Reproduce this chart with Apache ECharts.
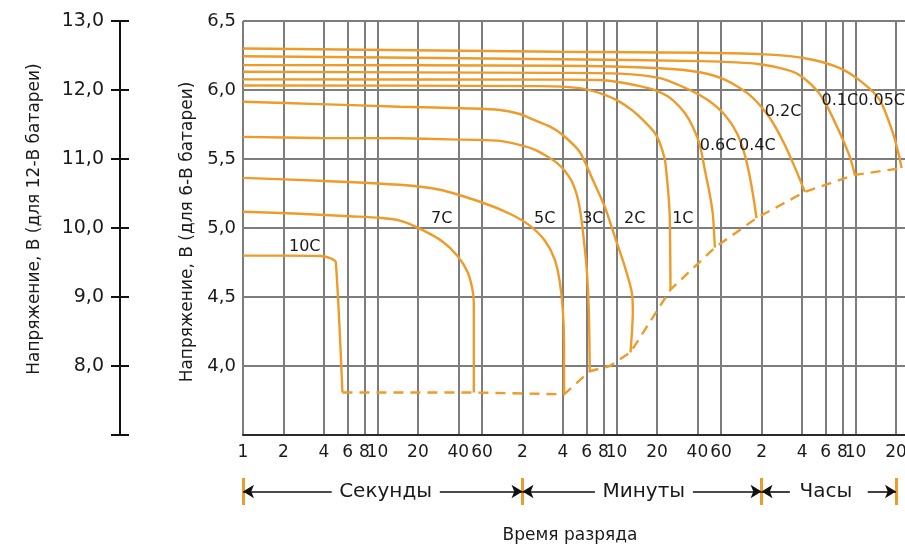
<!DOCTYPE html>
<html><head><meta charset="utf-8">
<script src="https://cdn.jsdelivr.net/npm/echarts@6/dist/echarts.min.js"></script>
<style>html,body{margin:0;padding:0;background:#fff}#chart{width:905px;height:548px}</style>
</head><body><div id="chart"></div>
<script>
// ---- X axis: discharge time in seconds (log scale) ----
const tickValues = [1,2,4,6,8,10,20,40,60,120,240,360,480,600,1200,2400,3600,7200,14400,21600,28800,36000,72000];
const tickLabels = ['1','2','4','6','8','10','20','40','60','2','4','6','8','10','20','40','60','2','4','6','8','10','20'];
const unitBounds = [1, 120, 7200, 72000];
const unitNames = ['Секунды', 'Минуты', 'Часы'];
const unitNamePos = [11.5, 958, 21660];
const arrowInner = [[4.57, 29.1], [415, 2219], [11690, 44360]];

// ---- curves: [time s, voltage V (6-V battery)] ----
const curveNames = ['10C','7C','5C','3C','2C','1C','0.6C','0.4C','0.2C','0.1C','0.05C'];
const c10C = [[1,4.80],[2,4.80],[3.72,4.797],[4.2,4.79],[4.6,4.775],[4.9,4.755],[5.49,3.808]];
const c7C = [[1,5.118],[2.64,5.103],[6.22,5.085],[10.4,5.074],[14.66,5.053],[20.6,4.995],[30.6,4.901],[39.6,4.795],[47.0,4.677],[50.9,4.554],[52.1,4.46],[52.1,3.808]];
const c5C = [[1,5.363],[3.72,5.342],[14.66,5.313],[29.1,5.277],[60.8,5.183],[96.5,5.103],[135.9,5.017],[175.7,4.909],[208.5,4.771],[227,4.612],[239.2,4.41],[244.5,4.157],[244.5,3.795]];
const c3C = [[1,5.66],[3.72,5.652],[14.66,5.65],[34.6,5.642],[81.3,5.631],[143,5.573],[216,5.472],[269.7,5.363],[304,5.241],[325.6,5.096],[342.7,4.916],[360.8,4.699],[373.4,4.41],[380,3.962]];
const c2C = [[1,5.915],[3.72,5.898],[14.66,5.879],[48.6,5.866],[81.3,5.855],[114.5,5.826],[143,5.787],[191,5.736],[239,5.674],[320,5.551],[400,5.349],[491,5.154],[583,4.937],[692,4.72],[780,4.533],[794,4.388],[780,4.229],[763,4.099]];
const c1C = [[1,6.033],[161,6.028],[320,6.014],[451,5.978],[603,5.927],[780,5.855],[942,5.783],[1157,5.689],[1261,5.616],[1374,5.494],[1421,5.371],[1471,5.205],[1496,5.06],[1514,4.554]];
const c06C = [[1,6.077],[227,6.075],[451,6.072],[895,6.028],[1261,5.985],[1575,5.927],[1934,5.833],[2219,5.732],[2500,5.602],[2725,5.421],[2969,5.241],[3128,5.096],[3236,4.858]];
const c04C = [[1,6.132],[227,6.124],[636,6.119],[1261,6.086],[2108,6.0],[2868,5.927],[3840,5.819],[4713,5.689],[5405,5.53],[5888,5.371],[6305,5.205],[6602,5.072]];
const c02C = [[1,6.18],[227,6.176],[1261,6.158],[2500,6.129],[3905,6.072],[5888,5.963],[8300,5.797],[10730,5.602],[13180,5.405],[15110,5.262]];
const c01C = [[1,6.245],[227,6.223],[2500,6.209],[6993,6.187],[12520,6.129],[17040,6.035],[20930,5.927],[27530,5.689],[32660,5.515],[35600,5.385]];
const c005C = [[1,6.301],[227,6.277],[2500,6.27],[8300,6.256],[16470,6.223],[27530,6.158],[40100,6.057],[54600,5.927],[68240,5.689],[75600,5.53],[79200,5.434]];
const endVoltage = [[5.49,3.808],[52.1,3.808],[244.5,3.795],[380,3.962],[535,4.0],[763,4.099],[1514,4.554],[3236,4.858],[6602,5.072],[15110,5.262],[35600,5.385],[79200,5.434]];
const labelPos = [[2.88,4.867],[30.1,5.067],[175.7,5.067],[400,5.067],[821,5.067],[1870,5.067],[3421,5.596],[6697,5.596],[10420,5.843],[27530,5.921],[56270,5.921]];

const curves = [c10C,c7C,c5C,c3C,c2C,c1C,c06C,c04C,c02C,c01C,c005C];

const ORANGE = '#EE9B2A';
const GRIDC = '#7d7d7d';
const TXT = '#1a1a1a';
const F = 'DejaVu Sans';

function xLabel(v){
  let best = 0, bd = Infinity;
  tickValues.forEach((t,i)=>{ const d = Math.abs(Math.log10(t)-Math.log10(v)); if(d<bd){bd=d;best=i;} });
  return tickLabels[best];
}
const comma = v => v.toFixed(1).replace('.', ',');

const series = [];
curves.forEach((d,i)=>{
  series.push({type:'line', name:curveNames[i], xAxisIndex:0, yAxisIndex:0, data:d,
    showSymbol:false, smooth:0.25, lineStyle:{color:ORANGE, width:2.4}, z:3, silent:true});
});
series.push({type:'line', name:'end', xAxisIndex:0, yAxisIndex:0, data:endVoltage,
  showSymbol:false, lineStyle:{color:ORANGE, width:2.4, type:[10,7]}, z:3, silent:true});
series.push({type:'scatter', xAxisIndex:0, yAxisIndex:0, symbolSize:0, z:5, silent:true,
  itemStyle:{opacity:1},
  data: labelPos.map((p,i)=>[p[0],p[1],curveNames[i]]),
  label:{show:true, position:'inside', formatter:p=>p.data[2], color:TXT, opacity:1, fontSize:16, fontFamily:F}});

// bottom unit row
series.push({type:'line', xAxisIndex:1, yAxisIndex:3, data:[[1,0.5]], showSymbol:false, lineStyle:{opacity:0}, silent:true,
  markLine:{silent:true, symbol:'none', animation:false, label:{show:false},
    lineStyle:{color:ORANGE, width:3, type:'solid'},
    data: unitBounds.map(v=>({xAxis:v}))}});
const arrowPairs = [];
arrowInner.forEach((a,i)=>{
  arrowPairs.push([{coord:[unitBounds[i],0.5], symbol:'arrow'},{coord:[a[0],0.5], symbol:'none'}]);
  arrowPairs.push([{coord:[unitBounds[i+1],0.5], symbol:'arrow'},{coord:[a[1],0.5], symbol:'none'}]);
});
series.push({type:'line', xAxisIndex:1, yAxisIndex:3, data:[[1,0.5]], showSymbol:false, lineStyle:{opacity:0}, silent:true,
  markLine:{silent:true, animation:false, symbolSize:[10,11], label:{show:false},
    lineStyle:{color:'#111', width:1.6, type:'solid'}, data: arrowPairs}});
series.push({type:'scatter', xAxisIndex:1, yAxisIndex:3, symbolSize:0, silent:true,
  itemStyle:{opacity:1},
  data: unitNamePos.map((p,i)=>[p,0.5,unitNames[i]]),
  label:{show:true, position:'inside', formatter:p=>p.data[2], color:TXT, opacity:1, fontSize:20, fontFamily:F}});

const option = {
  animation:false,
  backgroundColor:'#fff',
  grid:[
    {left:243, right:0, top:21, bottom:113, outerBoundsMode:'none'},
    {left:243, right:0, top:478, height:27, outerBoundsMode:'none'}
  ],
  xAxis:[
    {type:'log', logBase:10, min:1, max:84000, gridIndex:0,
     axisLine:{show:true, onZero:false, lineStyle:{color:'#2b2b2b', width:2}},
     axisTick:{show:false, customValues:tickValues},
     axisLabel:{customValues:tickValues, formatter:xLabel, color:TXT, fontSize:17, fontFamily:F, margin:9, hideOverlap:false},
     splitLine:{show:true, lineStyle:{color:GRIDC, width:2}},
     minorTick:{show:false}, minorSplitLine:{show:false},
     name:'Время разряда', nameLocation:'middle', nameGap:92,
     nameTextStyle:{color:TXT, fontSize:17, fontFamily:F, padding:[0,8,0,0]}},
    {type:'log', logBase:10, min:1, max:84000, gridIndex:1, show:false}
  ],
  yAxis:[
    {type:'value', gridIndex:0, min:3.5, max:6.5, interval:0.5, position:'left',
     axisLine:{show:false}, axisTick:{show:false},
     axisLabel:{formatter:v=>Math.abs(v-3.5)<1e-6?'':comma(v), color:TXT, fontSize:18, fontFamily:F, margin:7},
     splitLine:{show:true, lineStyle:{color:GRIDC, width:2}},
     name:'Напряжение, В (для 6-В батареи)', nameLocation:'middle', nameGap:45,
     nameTextStyle:{color:TXT, fontSize:17, fontFamily:F, padding:[0,8,0,0]}},
    {type:'value', gridIndex:0, min:7, max:13, interval:1, position:'left', offset:123,
     axisLine:{show:true, onZero:false, lineStyle:{color:'#111', width:2}},
     axisTick:{show:true, inside:false, length:9, lineStyle:{color:'#111', width:2}},
     axisLabel:{formatter:v=>Math.abs(v-7)<1e-6?'':comma(v), color:TXT, fontSize:19, fontFamily:F, margin:16},
     splitLine:{show:false},
     name:'Напряжение, В (для 12-В батареи)', nameLocation:'middle', nameGap:77,
     nameTextStyle:{color:TXT, fontSize:17, fontFamily:F, padding:[0,0,0,18]}},
    {type:'value', gridIndex:0, min:7, max:13, interval:1, position:'left', offset:123,
     axisLine:{show:false},
     axisTick:{show:true, inside:true, length:9, lineStyle:{color:'#111', width:2}},
     axisLabel:{show:false}, splitLine:{show:false}},
    {type:'value', gridIndex:1, min:0, max:1, show:false}
  ],
  series
};
const chart = echarts.init(document.getElementById('chart'), null, {renderer:'canvas'});
chart.setOption(option);
</script></body></html>
